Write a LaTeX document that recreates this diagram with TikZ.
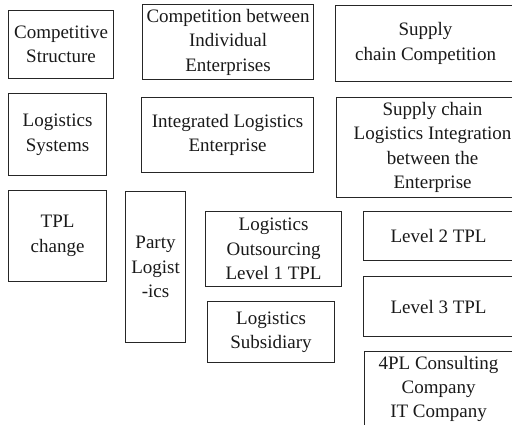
\documentclass[tikz,border=0pt]{standalone}
\usepackage{fontspec}
\setmainfont{Liberation Serif}
\begin{document}
\begin{tikzpicture}[x=1pt,y=-1pt,
  box/.style={draw=black!85, line width=1.1pt, anchor=north west, align=center,
    inner sep=0pt, font=\fontsize{19}{24.5}\selectfont, text=black!90}]
\useasboundingbox (0,0) rectangle (512,425);
\clip (0,0) rectangle (512,425);
% row 1
\node[box, minimum width=105, minimum height=68] (cs) at (8,10) {Competitive\\Structure};
\node[box, minimum width=171, minimum height=75] (ci) at (142,4) {Competition between\\Individual\\Enterprises};
\node[box, minimum width=180, minimum height=76] (sc) at (335,5) {Supply\\chain Competition};
% row 2
\node[box, minimum width=98, minimum height=82] (ls) at (8,93) {Logistics\\Systems};
\node[box, minimum width=172, minimum height=75] (il) at (141,97) {Integrated Logistics\\Enterprise};
\node[box, minimum width=192, minimum height=100] (sl) at (336,97) {Supply chain\\Logistics Integration\\between the\\Enterprise};
% row 3
\node[box, minimum width=98, minimum height=91] (tc) at (8,190) {TPL\\change};
\node[box, minimum width=60, minimum height=151] (pl) at (125,191) {Party\\Logist\\-ics};
\node[box, minimum width=136, minimum height=75] (lo) at (205,211) {Logistics\\Outsourcing\\Level 1 TPL};
\node[box, minimum width=127, minimum height=61] (lsub) at (207,301) {Logistics\\Subsidiary};
\node[box, minimum width=150, minimum height=49] (l2) at (363,211) {Level 2 TPL};
\node[box, minimum width=150, minimum height=60] (l3) at (363,276) {Level 3 TPL};
\node[box, minimum width=148, minimum height=90, anchor=north west] (fp) at (364,351) {};
\node[anchor=north, align=center, inner sep=0pt, font=\fontsize{19}{24}\selectfont, text=black!90] (fpt) at (fp.north |- 0,356) {4PL Consulting\\Company\\IT Company};
\end{tikzpicture}
\end{document}
